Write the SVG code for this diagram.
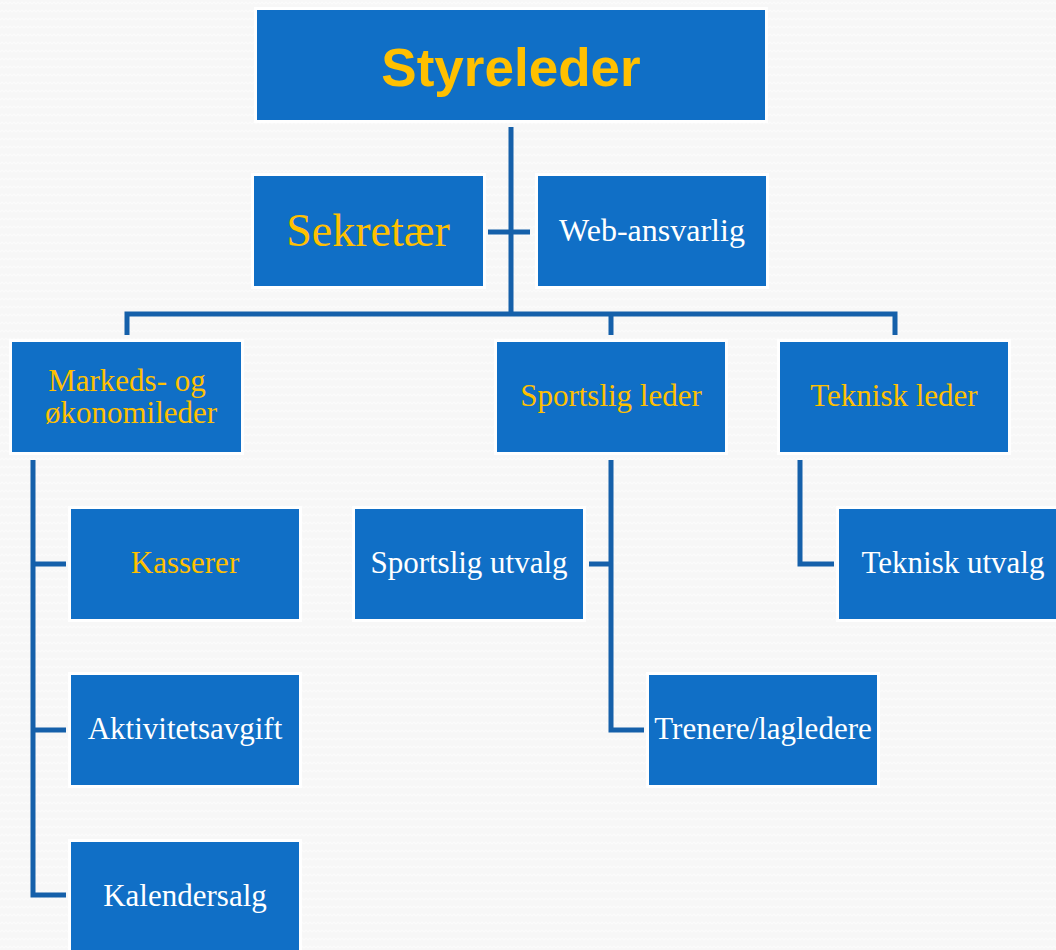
<svg xmlns="http://www.w3.org/2000/svg" width="1056" height="950" viewBox="0 0 1056 950">
<defs>
<pattern id="bgp" width="8" height="8" patternUnits="userSpaceOnUse">
<rect width="8" height="8" fill="#f7f7f7"/>
<path d="M0 4 L2 2 L4 4 L6 2 L8 4" fill="none" stroke="#fcfcfc" stroke-width="1.2"/>
</pattern>
<style>
.halo{fill:#ffffff}
.box{fill:#106fc6}
.t{font-family:"Liberation Serif","Times New Roman",serif;font-size:31px;text-anchor:middle;fill:#ffffff}
.y{fill:#ffc000}
.title{font-family:"Liberation Sans",Arial,sans-serif;font-weight:bold;font-size:53px;text-anchor:middle;fill:#ffc000}
.c{fill:none;stroke:#1560aa;stroke-width:5;stroke-linejoin:miter}
</style>
</defs>
<rect width="1056" height="950" fill="url(#bgp)"/>
<g id="connectors">
<path class="c" d="M511 127 V314"/>
<path class="c" d="M488 232 H530"/>
<path class="c" d="M127 335 V314 H895 V335"/>
<path class="c" d="M611 314 V335"/>
<path class="c" d="M33 460 V895 H66"/>
<path class="c" d="M33 564 H66"/>
<path class="c" d="M33 730 H66"/>
<path class="c" d="M611 460 V730 H644"/>
<path class="c" d="M611 564 H589"/>
<path class="c" d="M800 460 V564 H834"/>
</g>
<g id="styreleder">
<rect class="halo" x="254" y="7" width="514" height="116"/>
<rect class="box" x="257" y="10" width="508" height="110"/>
<text class="title" x="511" y="86">Styreleder</text>
</g>
<g id="sekretaer">
<rect class="halo" x="251" y="173" width="235" height="116"/>
<rect class="box" x="254" y="176" width="229" height="110"/>
<text class="t y" x="368" y="246" style="font-size:46px">Sekretær</text>
</g>
<g id="web-ansvarlig">
<rect class="halo" x="535" y="173" width="234" height="116"/>
<rect class="box" x="538" y="176" width="228" height="110"/>
<text class="t" x="652" y="241" style="font-size:32px">Web-ansvarlig</text>
</g>
<g id="markeds">
<rect class="halo" x="9" y="339" width="235" height="116"/>
<rect class="box" x="12" y="342" width="229" height="110"/>
<text class="t y" x="127" y="391">Markeds- og</text>
<text class="t y" x="131" y="423">økonomileder</text>
</g>
<g id="sportslig-leder">
<rect class="halo" x="494" y="339" width="234" height="116"/>
<rect class="box" x="497" y="342" width="228" height="110"/>
<text class="t y" x="611" y="406">Sportslig leder</text>
</g>
<g id="teknisk-leder">
<rect class="halo" x="777" y="339" width="234" height="116"/>
<rect class="box" x="780" y="342" width="228" height="110"/>
<text class="t y" x="894" y="406">Teknisk leder</text>
</g>
<g id="kasserer">
<rect class="halo" x="68" y="506" width="234" height="116"/>
<rect class="box" x="71" y="509" width="228" height="110"/>
<text class="t y" x="185" y="573">Kasserer</text>
</g>
<g id="aktivitetsavgift">
<rect class="halo" x="68" y="672" width="234" height="116"/>
<rect class="box" x="71" y="675" width="228" height="110"/>
<text class="t" x="185" y="739">Aktivitetsavgift</text>
</g>
<g id="kalendersalg">
<rect class="halo" x="68" y="839" width="234" height="116"/>
<rect class="box" x="71" y="842" width="228" height="110"/>
<text class="t" x="185" y="906">Kalendersalg</text>
</g>
<g id="sportslig-utvalg">
<rect class="halo" x="352" y="506" width="234" height="116"/>
<rect class="box" x="355" y="509" width="228" height="110"/>
<text class="t" x="469" y="573">Sportslig utvalg</text>
</g>
<g id="trenere">
<rect class="halo" x="646" y="672" width="234" height="116"/>
<rect class="box" x="649" y="675" width="228" height="110"/>
<text class="t" x="763" y="739">Trenere/lagledere</text>
</g>
<g id="teknisk-utvalg">
<rect class="halo" x="836" y="506" width="234" height="116"/>
<rect class="box" x="839" y="509" width="228" height="110"/>
<text class="t" x="953" y="573">Teknisk utvalg</text>
</g>
</svg>
